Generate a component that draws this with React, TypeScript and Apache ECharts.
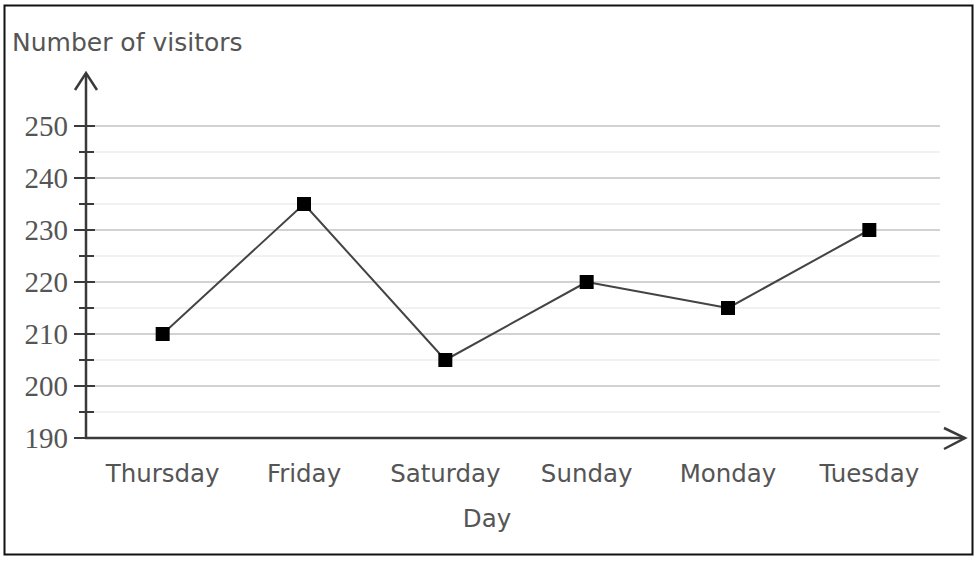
import React, { useEffect, useRef } from "react";
import * as echarts from "echarts";

const days = ["Thursday", "Friday", "Saturday", "Sunday", "Monday", "Tuesday"];
const visitors = [210, 235, 205, 220, 215, 230];
const yMin = 190;
const yMax = 250;
const yStep = 10;

export default function App() {
  const ref = useRef<HTMLDivElement>(null);
  useEffect(() => {
    document.body.style.margin = "0";
    const chart = echarts.init(ref.current!, null, { renderer: "svg" });
    const axisColor = "#3a3a3a";
    const sans = "DejaVu Sans";
    const textColor = "#555";
    const yBase = {
      type: "value",
      min: yMin,
      max: yMax,
      interval: yStep,
      offset: 6,
      position: "left",
      axisLine: { show: false },
    };
    chart.setOption({
      animation: false,
      backgroundColor: "#fff",
      grid: { left: 92, right: 40, top: 126, bottom: 126, containLabel: false },
      xAxis: {
        type: "category",
        data: days,
        boundaryGap: true,
        axisLine: { show: false },
        axisTick: { show: false },
        axisLabel: { interval: 0, hideOverlap: false, margin: 23, fontFamily: sans, fontSize: 24.5, color: textColor },
        name: "Day",
        nameLocation: "middle",
        nameGap: 68,
        nameTextStyle: { fontFamily: sans, fontSize: 24.5, color: textColor, padding: [0, 58, 0, 0] },
      },
      yAxis: [
        {
          ...yBase,
          axisTick: { show: true, length: 12, lineStyle: { color: axisColor, width: 2 } },
          minorTick: { show: true, splitNumber: 2, length: 7, lineStyle: { color: axisColor, width: 2 } },
          axisLabel: { margin: 18, fontFamily: "Liberation Serif", fontSize: 29, color: textColor },
          splitLine: { show: true, lineStyle: { color: "#d2d2d2", width: 2 } },
          minorSplitLine: { show: true, lineStyle: { color: "#ececec", width: 1.5 } },
        },
        {
          ...yBase,
          axisTick: { show: true, inside: true, length: 9, lineStyle: { color: axisColor, width: 2 } },
          minorTick: { show: true, splitNumber: 2, length: 8, lineStyle: { color: axisColor, width: 2 } },
          axisLabel: { show: false },
          splitLine: { show: false },
        },
      ],
      graphic: [
        {
          type: "rect",
          shape: { x: 4.5, y: 5.5, width: 968, height: 549 },
          style: { fill: "none", stroke: "#111", lineWidth: 2 },
          z: 100,
        },
        {
          type: "text",
          x: 12,
          y: 42,
          style: { text: "Number of visitors", fontFamily: sans, fontSize: 25, fill: textColor, textVerticalAlign: "middle" },
          z: 100,
        },
        {
          type: "line",
          shape: { x1: 86, y1: 439, x2: 86, y2: 73 },
          style: { stroke: axisColor, lineWidth: 2.5 },
          z: 100,
        },
        {
          type: "polyline",
          shape: { points: [[75, 90], [86, 73], [97, 90]] },
          style: { stroke: axisColor, lineWidth: 2.5, fill: "none" },
          z: 100,
        },
        {
          type: "line",
          shape: { x1: 85, y1: 438, x2: 965, y2: 438 },
          style: { stroke: axisColor, lineWidth: 2.5 },
          z: 100,
        },
        {
          type: "polyline",
          shape: { points: [[944, 428], [965, 438], [944, 449]] },
          style: { stroke: axisColor, lineWidth: 2.5, fill: "none" },
          z: 100,
        },
      ],
      series: [
        {
          type: "line",
          data: visitors,
          symbol: "rect",
          symbolSize: 14,
          lineStyle: { color: "#444", width: 2 },
          itemStyle: { color: "#000" },
          z: 50,
        },
      ],
    });
    return () => chart.dispose();
  }, []);
  return <div ref={ref} style={{ width: 980, height: 564 }} />;
}
